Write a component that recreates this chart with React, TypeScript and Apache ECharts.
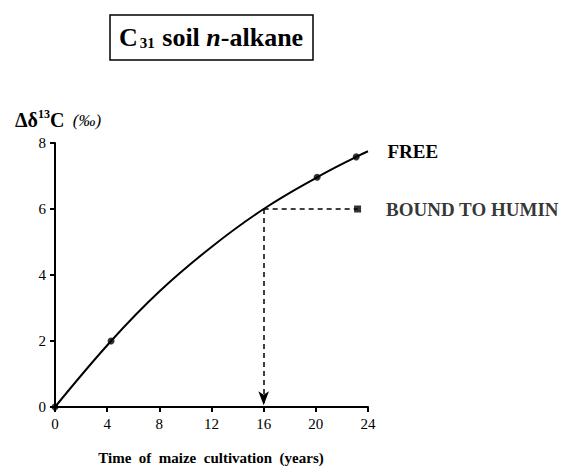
import React, { useEffect, useRef } from "react";
import * as echarts from "echarts";

const xTicks = [0, 4, 8, 12, 16, 20, 24];
const yTicks = [0, 2, 4, 6, 8];
// smooth "FREE" curve (years, Δδ13C ‰)
const curveX = [0, 4.3, 8, 12, 16, 20.1, 23.1, 24];
const curveY = [0, 2, 3.5, 4.85, 6, 6.96, 7.58, 7.75];
// measured points on FREE curve
const freeX = [0, 4.3, 20.1, 23.1];
const freeY = [0, 2, 6.96, 7.58];
// bound to humin
const boundX = [23.2];
const boundY = [6];
const readX = 16;
const readY = 6;

const SERIF = "'Liberation Serif', 'DejaVu Serif', serif";

export default function App() {
  const ref = useRef<HTMLDivElement>(null);
  useEffect(() => {
    if (!ref.current) return;
    const chart = echarts.init(ref.current, undefined, { renderer: "svg" });
    const last = curveX.length - 1;
    chart.setOption({
      animation: false,
      backgroundColor: "#ffffff",
      grid: { left: 55, right: 205, top: 143, bottom: 61 },
      xAxis: {
        type: "value",
        min: xTicks[0],
        max: xTicks[xTicks.length - 1],
        interval: 4,
        axisLine: { show: true, onZero: false, lineStyle: { color: "#000", width: 2 } },
        axisTick: { show: true, length: 5, lineStyle: { color: "#000", width: 2 } },
        axisLabel: { color: "#000", fontFamily: SERIF, fontSize: 15, margin: 9 },
        splitLine: { show: false },
      },
      yAxis: {
        type: "value",
        min: yTicks[0],
        max: yTicks[yTicks.length - 1],
        interval: 2,
        axisLine: { show: true, onZero: false, lineStyle: { color: "#000", width: 2 } },
        axisTick: { show: true, length: 5, lineStyle: { color: "#000", width: 2 } },
        axisLabel: { color: "#000", fontFamily: SERIF, fontSize: 15, margin: 9 },
        splitLine: { show: false },
      },
      series: [
        {
          type: "line",
          data: curveX.map((x, i) => [x, curveY[i]]),
          smooth: 0.4,
          showSymbol: false,
          symbol: "none",
          lineStyle: { color: "#000", width: 2 },
          z: 3,
          markPoint: {
            symbol: "circle",
            symbolSize: 1,
            itemStyle: { color: "transparent" },
            label: {
              show: true,
              position: "right",
              distance: 19,
              formatter: "FREE",
              color: "#000",
              fontFamily: SERIF,
              fontWeight: "bold",
              fontSize: 19,
            },
            data: [{ coord: [curveX[last], curveY[last]] }],
          },
          markLine: {
            silent: true,
            symbol: ["none", "none"],
            lineStyle: { color: "#000", width: 1.5, type: [5, 4] },
            label: { show: false },
            data: [
              [
                { coord: [readX, readY], symbol: "none" },
                { coord: [boundX[0], boundY[0]], symbol: "none" },
              ],
              [
                { coord: [readX, readY], symbol: "none" },
                { coord: [readX, 0.05], symbol: "arrow", symbolSize: [8, 14] },
              ],
            ],
          },
        },
        {
          type: "scatter",
          data: freeX.map((x, i) => [x, freeY[i]]),
          symbol: "circle",
          symbolSize: 7,
          itemStyle: { color: "#000" },
          z: 4,
        },
        {
          type: "scatter",
          data: boundX.map((x, i) => [x, boundY[i]]),
          symbol: "rect",
          symbolSize: 7,
          itemStyle: { color: "#000" },
          z: 4,
          label: {
            show: true,
            position: "right",
            distance: 25,
            formatter: "BOUND TO HUMIN",
            color: "#000",
            fontFamily: SERIF,
            fontWeight: "bold",
            fontSize: 19,
          },
        },
      ],
      graphic: [
        {
          type: "rect",
          shape: { x: 110, y: 15, width: 203, height: 45 },
          style: { fill: "#fff", stroke: "#000", lineWidth: 1.5 },
        },
        {
          type: "text",
          x: 119,
          y: 37,
          style: {
            text: "{b|C}{sub|31}{b| soil }{i|n}{b|-alkane}",
            fill: "#000",
            verticalAlign: "middle",
            rich: {
              b: { fontFamily: SERIF, fontWeight: "bold", fontSize: 26, fill: "#000" },
              sub: { fontFamily: SERIF, fontWeight: "bold", fontSize: 15, fill: "#000", padding: [12, 1, 0, 2] },
              i: { fontFamily: SERIF, fontWeight: "bold", fontStyle: "italic", fontSize: 26, fill: "#000" },
            },
          },
        },
        {
          type: "text",
          x: 15,
          y: 120,
          style: {
            text: "{b|Δδ}{sup|13}{b|C}{p|  (‰)}",
            fill: "#000",
            verticalAlign: "middle",
            rich: {
              b: { fontFamily: SERIF, fontWeight: "bold", fontSize: 20, fill: "#000" },
              sup: { fontFamily: SERIF, fontWeight: "bold", fontSize: 12, fill: "#000", padding: [0, 0, 12, 0] },
              p: { fontFamily: SERIF, fontStyle: "italic", fontSize: 17, fill: "#000" },
            },
          },
        },
        {
          type: "text",
          x: 211,
          y: 458,
          style: {
            text: "Time  of  maize  cultivation  (years)",
            fontFamily: SERIF,
            fontWeight: "bold",
            fontSize: 15,
            fill: "#000",
            align: "center",
            verticalAlign: "middle",
          },
        },
      ],
    });
    return () => chart.dispose();
  }, []);
  return (
    <div
      ref={ref}
      style={{ position: "absolute", left: 0, top: 0, width: 573, height: 468 }}
    />
  );
}
